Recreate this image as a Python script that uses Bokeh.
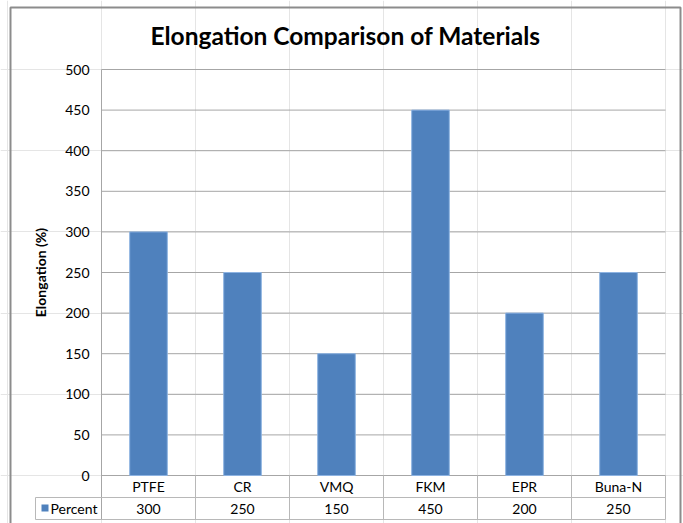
from bokeh.plotting import figure
from bokeh.models import Range1d
from bokeh.core.properties import value
from bokeh.embed import file_html
from bokeh.resources import INLINE

# ---- data ----
categories = ["PTFE", "CR", "VMQ", "FKM", "EPR", "Buna-N"]
percent = [300, 250, 150, 450, 200, 250]
y_ticks = [0, 50, 100, 150, 200, 250, 300, 350, 400, 450, 500]
series_name = "Percent"
chart_title = "Elongation Comparison of Materials"
y_title = "Elongation (%)"

# ---- layout helpers (canvas pixels -> data units) ----
W, H = 683, 523
FRAME_L, FRAME_R, FRAME_T, FRAME_B = 101, 665, 69, 475
PX_PER_CAT = (FRAME_R - FRAME_L) / len(categories)
UNIT_PER_PX = 500 / (FRAME_B - FRAME_T)


def X(px):
    return (px - FRAME_L) / PX_PER_CAT


def Y(py):
    return (FRAME_B - py) * UNIT_PER_PX


FONT = value("Lato")
BAR = "#4F81BD"
GRID = "#A6A6A6"
TABLE = "#B8B8B8"
BORDER = "#8C8C8C"

p = figure(width=W, height=H,
           x_range=Range1d(X(0), X(W)), y_range=Range1d(Y(H), Y(0)),
           output_backend="svg", toolbar_location=None,
           x_axis_location=None, y_axis_location=None,
           min_border=0)
p.outline_line_color = None
p.background_fill_color = "white"
p.border_fill_color = "white"

ncat = len(categories)
xc = [i + 0.5 for i in range(ncat)]

# gridlines
p.multi_line(xs=[[0, ncat] for _ in y_ticks], ys=[[t, t] for t in y_ticks],
             line_color=GRID, line_width=1)

# bars
p.vbar(x=xc, top=percent, bottom=0, width=0.4, fill_color=BAR,
       line_color="#8DB3E2", line_width=1)

# left axis line (extends through table)
p.line(x=[0, 0], y=[Y(519), y_ticks[-1]], line_color=GRID, line_width=1)

# y tick labels
p.text(x=[X(89)] * len(y_ticks), y=y_ticks, text=[str(t) for t in y_ticks],
       text_align="right", text_baseline="middle", text_font=FONT,
       text_font_size="14px", text_color="#000000")

# y axis title
p.text(x=[X(40)], y=[Y(272)], text=[y_title], angle=1.5708,
       text_align="center", text_baseline="middle", text_font=FONT,
       text_font_size="14px", text_font_style="bold", text_color="#000000")

# data table lines
row_mid = Y(497)
row_bot = Y(519)
p.multi_line(xs=[[X(35), ncat], [X(35), ncat]], ys=[[row_mid, row_mid], [row_bot, row_bot]],
             line_color=TABLE, line_width=1)
p.multi_line(xs=[[i, i] for i in range(1, ncat + 1)] + [[X(35), X(35)]],
             ys=[[row_bot, 0] for _ in range(1, ncat + 1)] + [[row_bot, row_mid]],
             line_color=TABLE, line_width=1)

# table text
p.text(x=xc, y=[Y(486)] * ncat, text=categories, text_align="center",
       text_baseline="middle", text_font=FONT, text_font_size="14px",
       text_color="#000000")
p.text(x=xc, y=[Y(508)] * ncat, text=[str(v) for v in percent], text_align="center",
       text_baseline="middle", text_font=FONT, text_font_size="14px",
       text_color="#000000")

# legend key in table
p.quad(left=[X(41)], right=[X(48)], top=[Y(504)], bottom=[Y(511)],
       fill_color=BAR, line_color=None)
p.text(x=[X(50)], y=[Y(508)], text=[series_name], text_align="left",
       text_baseline="middle", text_font=FONT, text_font_size="14px",
       text_color="#000000")

# title
p.text(x=[X(345)], y=[Y(35)], text=[chart_title], text_align="center",
       text_baseline="middle", text_font=FONT, text_font_size="24.5px",
       text_font_style="bold", text_color="#000000")

# outer chart border
p.line(x=[X(10), X(10), X(680), X(680)], y=[Y(H + 5), Y(7), Y(7), Y(H + 5)],
       line_color=BORDER, line_width=2)

open("out.html", "w").write(file_html(p, INLINE))
